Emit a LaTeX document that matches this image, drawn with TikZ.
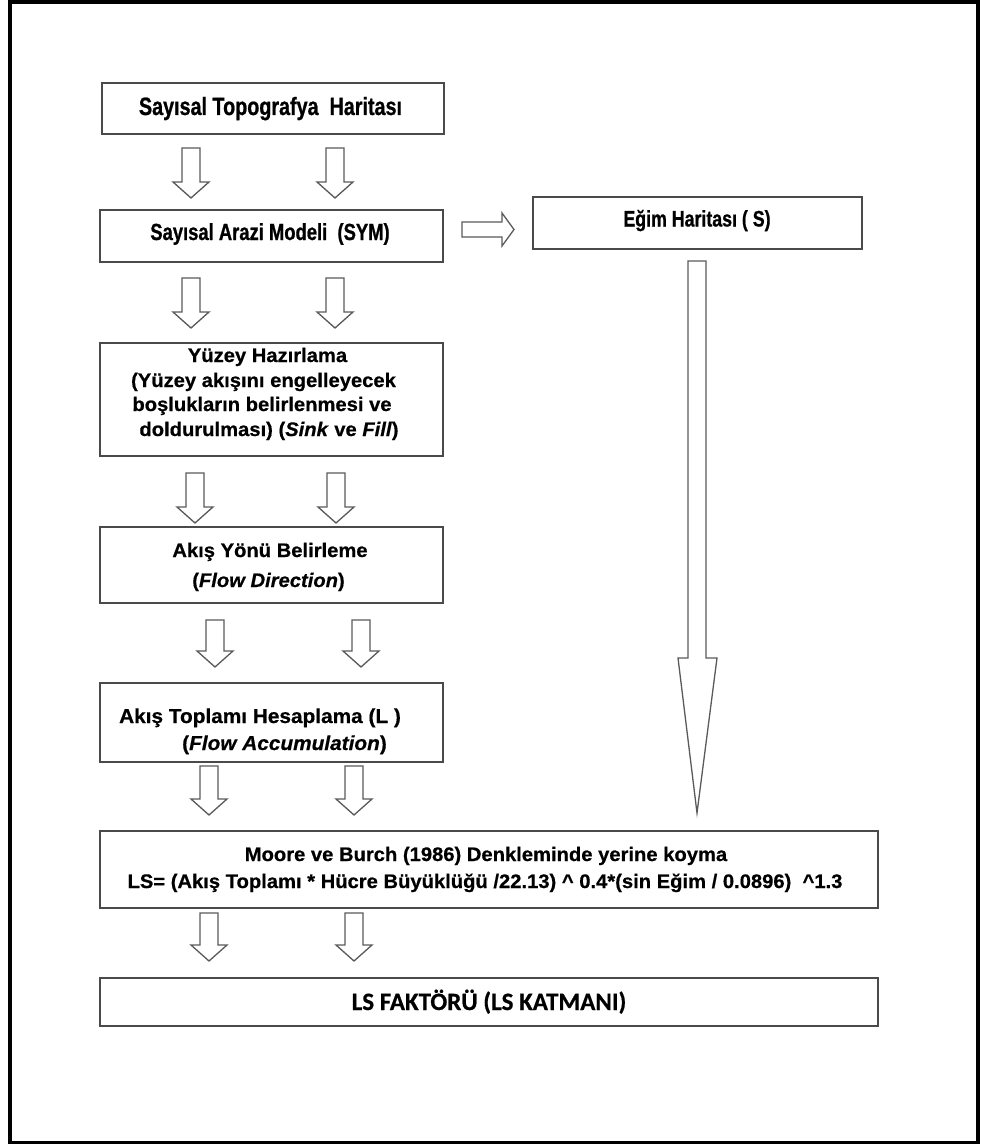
\documentclass[tikz,border=0pt]{standalone}
\usepackage{fontspec}
\setmainfont{Liberation Sans}[FakeStretch=1.03,FakeBold=0.6]
\newfontfamily\condfont{Liberation Sans}[FakeStretch=0.79,FakeBold=0.8]
\newfontfamily\calibrifont{Carlito}[FakeBold=0.6]
\definecolor{boxgray}{HTML}{4A4A4A}
\definecolor{arrowgray}{HTML}{5A5A5A}

% hollow block arrow pointing down: centre x, top y, tip y
\newcommand\hollowdown[3]{%
  \draw[blockarrow] ({#1-9},#2) -- ({#1+9},#2) -- ({#1+9},{#3-16})
    -- ({#1+18},{#3-16}) -- (#1,#3) -- ({#1-18},{#3-16})
    -- ({#1-9},{#3-16}) -- cycle;}

\begin{document}
\begin{tikzpicture}[x=1pt,y=-1pt,
  box/.style={draw=boxgray, line width=1.6pt, fill=white, rectangle,
    inner sep=0pt, outer sep=0pt},
  txt/.style={font=\bfseries\fontsize{19.6}{22}\selectfont, anchor=base,
    inner sep=0pt, text=black},
  condtxt/.style={txt, font=\condfont\bfseries\fontsize{#1}{26}\selectfont},
  blockarrow/.style={draw=arrowgray, line width=1.3pt, fill=white,
    line join=miter}]
\useasboundingbox (0,0) rectangle (981,1145);

% outer frame
\draw[line width=3.5pt] (10,1.8) rectangle (978,1142.5);

% boxes
\node[box, minimum width=342pt, minimum height=51pt] (topo) at (273,108.5) {};
\node[box, minimum width=343pt, minimum height=52pt] (sym) at (271.5,236) {};
\node[box, minimum width=329pt, minimum height=52pt] (egim) at (697.5,223) {};
\node[box, minimum width=343pt, minimum height=113pt] (yuzey) at (271.5,399.5) {};
\node[box, minimum width=343pt, minimum height=76pt] (yon) at (271.5,565) {};
\node[box, minimum width=343pt, minimum height=79pt] (toplam) at (271.5,722.5) {};
\node[box, minimum width=778pt, minimum height=77pt] (moore) at (489,869.5) {};
\node[box, minimum width=778pt, minimum height=48pt] (ls) at (489,1002) {};

% texts
\node[condtxt=25] (t1) at (270.5,115) {Sayısal Topografya~ Haritası};
\node[condtxt=23.3] (t2) at (270,240) {Sayısal Arazi Modeli~ (SYM)};
\node[condtxt=22.5] (tS) at (697,226.5) {Eğim Haritası ( S)};
\node[txt] (t3a) at (267.5,362) {Yüzey Hazırlama};
\node[txt] (t3b) at (263.5,387) {(Yüzey akışını engelleyecek};
\node[txt] (t3c) at (262,411) {boşlukların belirlenmesi ve};
\node[txt] (t3d) at (269,436) {doldurulması) (\textit{Sink} ve \textit{Fill})};
\node[txt] (t4a) at (270,557) {Akış Yönü Belirleme};
\node[txt] (t4b) at (268.5,587) {(\textit{Flow Direction})};
\node[txt, font=\bfseries\fontsize{20.2}{22}\selectfont] (t5a) at (260,723) {Akış Toplamı Hesaplama (L )};
\node[txt, font=\bfseries\fontsize{20.2}{22}\selectfont, anchor=base west] (t5b) at (182,750) {(\textit{Flow Accumulation})};
\node[txt] (t6a) at (486,861) {Moore ve Burch (1986) Denkleminde yerine koyma};
\node[txt] (t6b) at (485,888) {LS= (Akış Toplamı * Hücre Büyüklüğü /22.13) \textasciicircum{} 0.4*(sin Eğim / 0.0896)~ \textasciicircum{}1.3};
\node[txt, font=\calibrifont\bfseries\fontsize{25}{28}\selectfont] (t7) at (489,1010) {LS FAKTÖRÜ (LS KATMANI)};

% block arrows between the steps
\hollowdown{191}{148}{198}
\hollowdown{335}{148}{198}
\hollowdown{191}{278}{328}
\hollowdown{335}{278}{328}
\hollowdown{195}{473}{523}
\hollowdown{336}{473}{523}
\hollowdown{215}{620}{667}
\hollowdown{361}{620}{667}
\hollowdown{209}{766}{815}
\hollowdown{354}{766}{815}
\hollowdown{209}{913}{961}
\hollowdown{354}{913}{961}

% arrow to the slope map
\draw[blockarrow] (462,222) -- (502,222) -- (502,213) -- (514,229.5)
  -- (502,246) -- (502,237) -- (462,237) -- cycle;

% long arrow from the slope map down to the equation
\draw[blockarrow] (688,261) -- (706,261) -- (706,658) -- (717,658)
  -- (697,813) -- (678,658) -- (688,658) -- cycle;
\end{tikzpicture}
\end{document}
